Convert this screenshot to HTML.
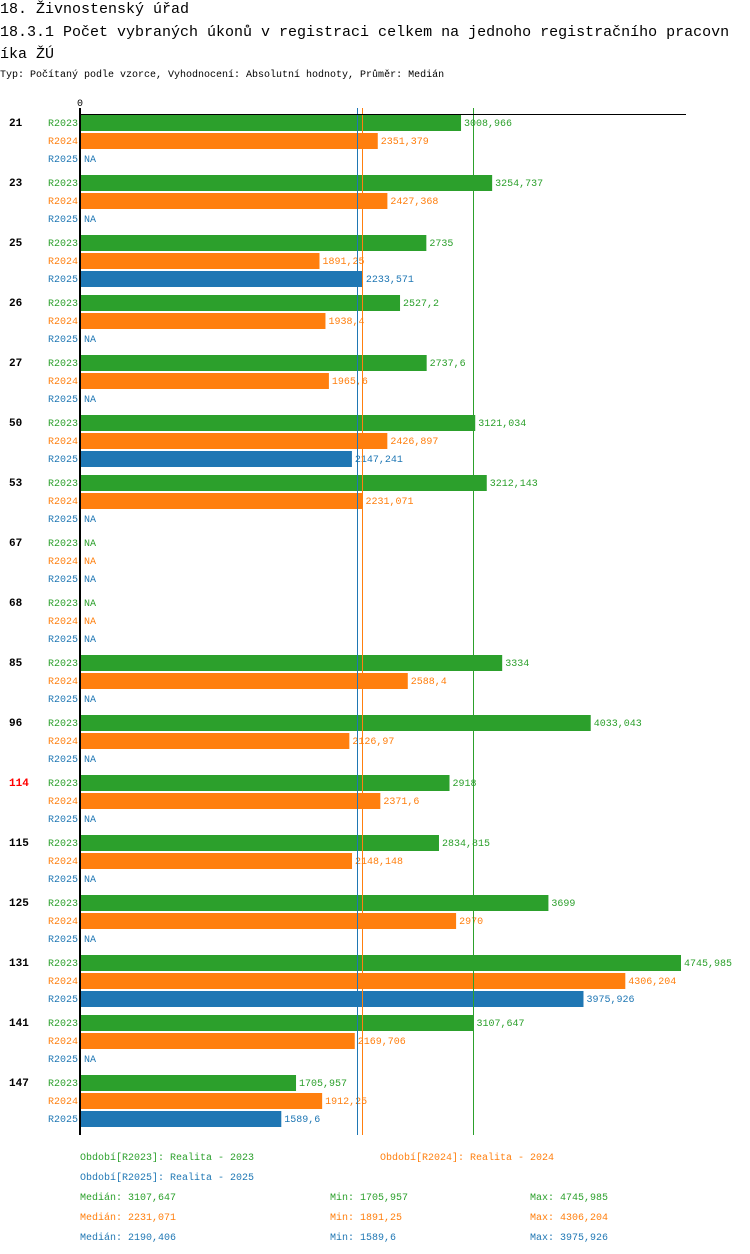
<!DOCTYPE html>
<html><head><meta charset="utf-8"><style>
body{margin:0;background:#fff;width:750px;height:1254px;overflow:hidden;font-family:"Liberation Mono",monospace}
svg{display:block}
</style></head><body>
<svg width="750" height="1254" xmlns="http://www.w3.org/2000/svg" font-family="Liberation Mono, monospace">
<text x="0" y="13" font-size="15">18. Živnostenský úřad</text>
<text x="0" y="36" font-size="15">18.3.1 Počet vybraných úkonů v registraci celkem na jednoho registračního pracovn</text>
<text x="0" y="58" font-size="15">íka ŽÚ</text>
<text x="0" y="77" font-size="10">Typ: Počítaný podle vzorce, Vyhodnocení: Absolutní hodnoty, Průměr: Medián</text>
<g id="plot"></g>
<g id="legend" font-size="10">
<text x="80" y="1160" fill="#2ca02c">Období[R2023]: Realita - 2023</text>
<text x="380" y="1160" fill="#ff7f0e">Období[R2024]: Realita - 2024</text>
<text x="80" y="1180" fill="#1f77b4">Období[R2025]: Realita - 2025</text>
<text x="80" y="1200" fill="#2ca02c">Medián: 3107,647</text>
<text x="330" y="1200" fill="#2ca02c">Min: 1705,957</text>
<text x="530" y="1200" fill="#2ca02c">Max: 4745,985</text>
<text x="80" y="1220" fill="#ff7f0e">Medián: 2231,071</text>
<text x="330" y="1220" fill="#ff7f0e">Min: 1891,25</text>
<text x="530" y="1220" fill="#ff7f0e">Max: 4306,204</text>
<text x="80" y="1240" fill="#1f77b4">Medián: 2190,406</text>
<text x="330" y="1240" fill="#1f77b4">Min: 1589,6</text>
<text x="530" y="1240" fill="#1f77b4">Max: 3975,926</text>
</g>
</svg>
<script>
const categories=["21","23","25","26","27","50","53","67","68","85","96","114","115","125","131","141","147"];
const highlighted=["114"];
const seriesNames=["R2023","R2024","R2025"];
const seriesColors=["#2ca02c","#ff7f0e","#1f77b4"];
const r2023=[3008.966,3254.737,2735,2527.2,2737.6,3121.034,3212.143,null,null,3334,4033.043,2918,2834.815,3699,4745.985,3107.647,1705.957];
const r2024=[2351.379,2427.368,1891.25,1938.4,1965.6,2426.897,2231.071,null,null,2588.4,2126.97,2371.6,2148.148,2970,4306.204,2169.706,1912.25];
const r2025=[null,null,2233.571,null,null,2147.241,null,null,null,null,null,null,null,null,3975.926,null,1589.6];
const medians=[3107.647,2231.071,2190.406];
const maxValue=4745.985;
const series=[r2023,r2024,r2025];
const NS="http://www.w3.org/2000/svg";
const x0=80,x1=681;
const xs=v=>x0+v/maxValue*(x1-x0);
const g=document.getElementById('plot');
function mk(tag,attrs){const e=document.createElementNS(NS,tag);for(const k in attrs)e.setAttribute(k,attrs[k]);g.appendChild(e);return e;}
const fmt=v=>String(v).replace('.',',');
const groupH=60, plotTop=114;
const plotBottom=plotTop+groupH*categories.length+1;
categories.forEach((c,ci)=>{
 const y0=plotTop+groupH*ci;
 const lab=mk('text',{x:9,y:y0+12,'font-size':11,'font-weight':'bold',fill:highlighted.includes(c)?'#ff0000':'#000'});
 lab.textContent=c;
 
 
 series.forEach((s,si)=>{
  const ry=y0+1+18*si;
  const t=mk('text',{x:78,y:ry+11,'font-size':10,fill:seriesColors[si],'text-anchor':'end'});
  t.textContent=seriesNames[si];
  
  
  const v=s[ci];
  if(v==null){
   const na=mk('text',{x:84,y:ry+11,'font-size':10,fill:seriesColors[si]});
   na.textContent='NA';
   
   
  }else{
   const b=mk('rect',{x:x0,y:ry,width:xs(v)-x0,height:16,fill:seriesColors[si]});
   
   
   const vt=mk('text',{x:xs(v)+3,y:ry+11,'font-size':10,fill:seriesColors[si]});
   vt.textContent=fmt(v);
   
   
  }
 });
});
[0,1,2].forEach(i=>{
 const mx=Math.floor(xs(medians[i]))+0.5;
 const l=mk('line',{x1:mx,x2:mx,y1:108,y2:plotBottom,stroke:seriesColors[i],'stroke-width':1});
 
 
});
const ax=mk('line',{x1:x0,x2:x0,y1:108,y2:plotBottom,stroke:'#000','stroke-width':2});


const tl=mk('line',{x1:x0,x2:686,y1:114.5,y2:114.5,stroke:'#000','stroke-width':1});


const z=mk('text',{x:x0,y:106,'font-size':10,'text-anchor':'middle'});
z.textContent='0';


</script>
</body></html>
